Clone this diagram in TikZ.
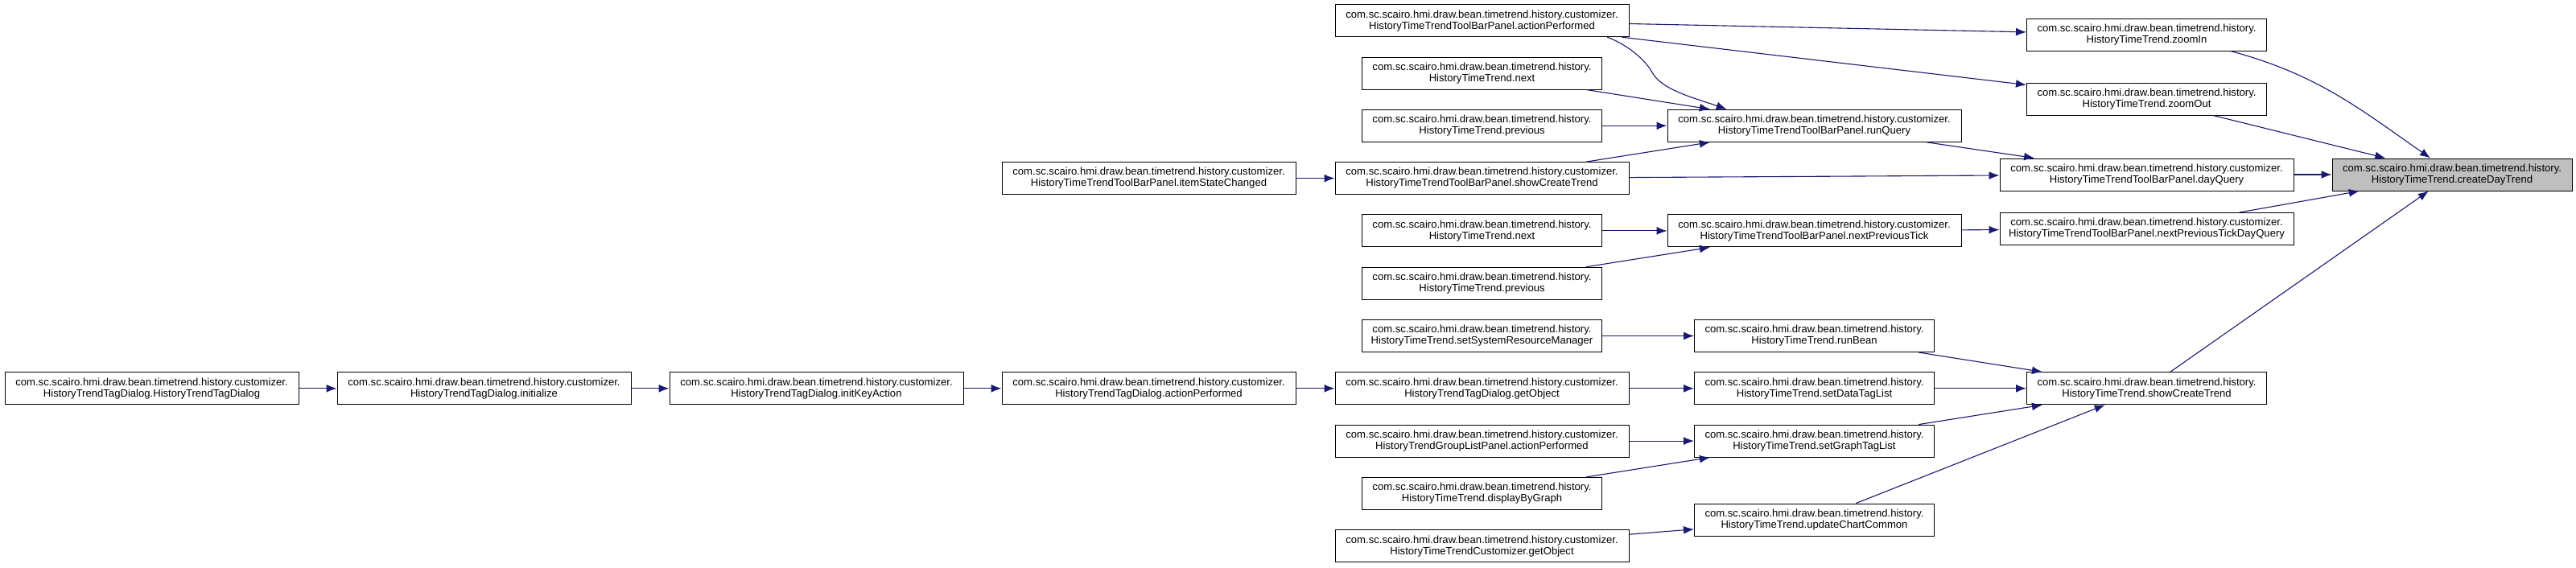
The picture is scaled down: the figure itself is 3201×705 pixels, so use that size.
\documentclass[tikz,border=0pt]{standalone}
\usepackage{fontspec}
\setmainfont{Liberation Sans}
\usepackage{tikz}
\usepackage{xcolor}
\usetikzlibrary{arrows.meta}
\definecolor{edgeblue}{HTML}{191970}
\definecolor{focusgray}{HTML}{BFBFBF}
\tikzstyle{every node}=[font=\fontsize{13.1}{14}\selectfont]
\tikzstyle{fn} = [rectangle, draw, line width=1pt, fill=white, align=center, minimum width=298pt, minimum height=40pt, inner xsep=4pt, inner ysep=2pt, node distance=65.3pt]
\tikzstyle{fnwide} = [fn, minimum width=365pt]
\tikzstyle{line} = [draw=edgeblue, line width=1.1pt, -{Latex[length=13pt,width=10pt]}]

\begin{document}
\begin{tikzpicture}[x=1pt,y=-1pt]
    \useasboundingbox (0,0) rectangle (3201,705);
    % Place nodes
    \node [fnwide] (tbAction) at (1841.5,25.7) {com.sc.scairo.hmi.draw.bean.timetrend.history.customizer.\\HistoryTimeTrendToolBarPanel.actionPerformed};
    \node [fn, below of=tbAction] (next1) {com.sc.scairo.hmi.draw.bean.timetrend.history.\\HistoryTimeTrend.next};
    \node [fn, below of=next1] (prev1) {com.sc.scairo.hmi.draw.bean.timetrend.history.\\HistoryTimeTrend.previous};
    \node [fnwide, below of=prev1] (tbShow) {com.sc.scairo.hmi.draw.bean.timetrend.history.customizer.\\HistoryTimeTrendToolBarPanel.showCreateTrend};
    \node [fn, below of=tbShow] (next2) {com.sc.scairo.hmi.draw.bean.timetrend.history.\\HistoryTimeTrend.next};
    \node [fn, below of=next2] (prev2) {com.sc.scairo.hmi.draw.bean.timetrend.history.\\HistoryTimeTrend.previous};
    \node [fn, below of=prev2] (sysRes) {com.sc.scairo.hmi.draw.bean.timetrend.history.\\HistoryTimeTrend.setSystemResourceManager};
    \node [fnwide, below of=sysRes] (dlgGet) {com.sc.scairo.hmi.draw.bean.timetrend.history.customizer.\\HistoryTrendTagDialog.getObject};
    \node [fnwide, below of=dlgGet] (groupAction) {com.sc.scairo.hmi.draw.bean.timetrend.history.customizer.\\HistoryTrendGroupListPanel.actionPerformed};
    \node [fn, below of=groupAction] (dispGraph) {com.sc.scairo.hmi.draw.bean.timetrend.history.\\HistoryTimeTrend.displayByGraph};
    \node [fnwide, below of=dispGraph] (custGet) {com.sc.scairo.hmi.draw.bean.timetrend.history.customizer.\\HistoryTimeTrendCustomizer.getObject};

    \node [fnwide, node distance=414pt, left of=tbShow] (itemState) {com.sc.scairo.hmi.draw.bean.timetrend.history.customizer.\\HistoryTimeTrendToolBarPanel.itemStateChanged};
    \node [fnwide, node distance=414pt, left of=dlgGet] (dlgAction) {com.sc.scairo.hmi.draw.bean.timetrend.history.customizer.\\HistoryTrendTagDialog.actionPerformed};
    \node [fnwide, node distance=413pt, left of=dlgAction] (dlgKey) {com.sc.scairo.hmi.draw.bean.timetrend.history.customizer.\\HistoryTrendTagDialog.initKeyAction};
    \node [fnwide, node distance=413pt, left of=dlgKey] (dlgInit) {com.sc.scairo.hmi.draw.bean.timetrend.history.customizer.\\HistoryTrendTagDialog.initialize};
    \node [fnwide, node distance=413pt, left of=dlgInit] (dlgCtor) {com.sc.scairo.hmi.draw.bean.timetrend.history.customizer.\\HistoryTrendTagDialog.HistoryTrendTagDialog};

    \node [fnwide, node distance=413pt, right of=prev1] (runQuery) {com.sc.scairo.hmi.draw.bean.timetrend.history.customizer.\\HistoryTimeTrendToolBarPanel.runQuery};
    \node [fnwide, node distance=413pt, right of=next2] (npTick) {com.sc.scairo.hmi.draw.bean.timetrend.history.customizer.\\HistoryTimeTrendToolBarPanel.nextPreviousTick};
    \node [fn, node distance=413pt, right of=sysRes] (runBean) {com.sc.scairo.hmi.draw.bean.timetrend.history.\\HistoryTimeTrend.runBean};
    \node [fn, node distance=413pt, right of=dlgGet] (setData) {com.sc.scairo.hmi.draw.bean.timetrend.history.\\HistoryTimeTrend.setDataTagList};
    \node [fn, node distance=413pt, right of=groupAction] (setGraph) {com.sc.scairo.hmi.draw.bean.timetrend.history.\\HistoryTimeTrend.setGraphTagList};
    \node [fn] (updChart) at (2254.5,646) {com.sc.scairo.hmi.draw.bean.timetrend.history.\\HistoryTimeTrend.updateChartCommon};

    \node [fn] (zoomIn) at (2667.5,43) {com.sc.scairo.hmi.draw.bean.timetrend.history.\\HistoryTimeTrend.zoomIn};
    \node [fn] (zoomOut) at (2667.5,123) {com.sc.scairo.hmi.draw.bean.timetrend.history.\\HistoryTimeTrend.zoomOut};
    \node [fnwide] (dayQuery) at (2667.5,217) {com.sc.scairo.hmi.draw.bean.timetrend.history.customizer.\\HistoryTimeTrendToolBarPanel.dayQuery};
    \node [fnwide] (npTickDay) at (2667.5,284.5) {com.sc.scairo.hmi.draw.bean.timetrend.history.customizer.\\HistoryTimeTrendToolBarPanel.nextPreviousTickDayQuery};
    \node [fn, node distance=413pt, right of=setData] (showTrend) {com.sc.scairo.hmi.draw.bean.timetrend.history.\\HistoryTimeTrend.showCreateTrend};

    \node [fn, fill=focusgray, node distance=379.5pt, right of=dayQuery] (createDay) {com.sc.scairo.hmi.draw.bean.timetrend.history.\\HistoryTimeTrend.createDayTrend};
    % Draw edges
    \path [line] (tbAction) -- (zoomIn);
    \path [line] (tbAction) -- (zoomOut);
    \path [line] ([xshift=-27.3]tbAction.south east) .. controls +(22,8) and +(-10,-18) .. (2053,90) .. controls +(12,22) and +(-40,-14) .. ([xshift=-108.8]runQuery.north);
    \path [line] (next1) -- (runQuery);
    \path [line] (prev1) -- (runQuery);
    \path [line] (tbShow) -- (runQuery);
    \path [line] (itemState) -- (tbShow);
    \path [line] (tbShow) -- (dayQuery);
    \path [line] (runQuery) -- (dayQuery);
    \path [line] (next2) -- (npTick);
    \path [line] (prev2) -- (npTick);
    \path [line] (npTick) -- (npTickDay);
    \path [line] ([xshift=104.2]zoomIn.south) to[out=-15,in=145] ([xshift=-27]createDay.north);
    \path [line] (zoomOut) -- (createDay);
    \path [line] (dayQuery) -- (createDay);
    \path [line] (npTickDay) -- (createDay);
    \path [line] (showTrend) -- (createDay);
    \path [line] (sysRes) -- (runBean);
    \path [line] (runBean) -- (showTrend);
    \path [line] (dlgCtor) -- (dlgInit);
    \path [line] (dlgInit) -- (dlgKey);
    \path [line] (dlgKey) -- (dlgAction);
    \path [line] (dlgAction) -- (dlgGet);
    \path [line] (dlgGet) -- (setData);
    \path [line] (setData) -- (showTrend);
    \path [line] (groupAction) -- (setGraph);
    \path [line] (dispGraph) -- (setGraph);
    \path [line] (setGraph) -- (showTrend);
    \path [line] (custGet) -- (updChart);
    \path [line] (updChart) -- (showTrend);
\end{tikzpicture}
\end{document}
